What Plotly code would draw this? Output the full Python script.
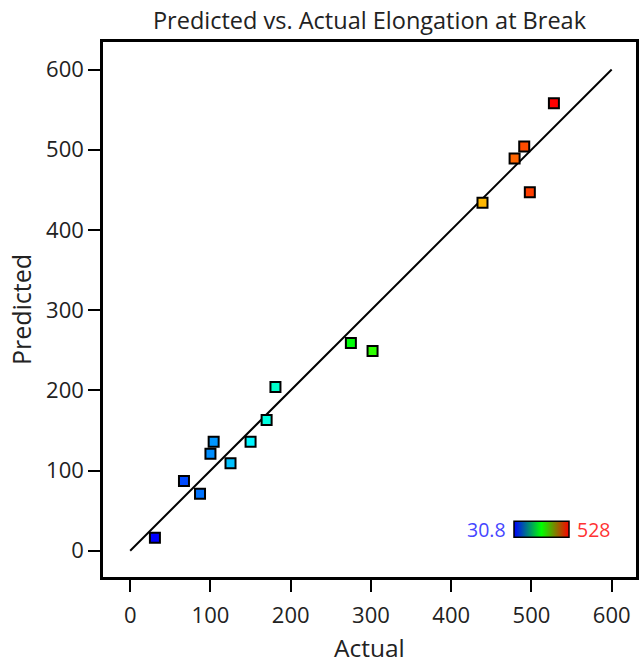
import plotly.graph_objects as go

# Data
actual = [30.8, 67, 87, 100, 104, 125, 150, 170, 181, 275, 302, 439, 479, 491, 498, 528]
predicted = [16, 87, 71, 121, 136, 109, 136, 163, 204, 259, 249, 434, 489, 504, 447, 558]
line_x = [0, 600]
line_y = [0, 600]
tick_vals = [0, 100, 200, 300, 400, 500, 600]
color_min = 30.8
color_max = 528

FONT = "Open Sans"
TXT = "#222222"

marker_scale = [[0.0, "rgb(0,0,255)"], [0.25, "rgb(0,255,255)"], [0.5, "rgb(0,255,0)"],
                [0.75, "rgb(255,255,0)"], [1.0, "rgb(255,0,0)"]]
bar_scale = [[0.0, "rgb(0,0,255)"], [0.5, "rgb(0,255,0)"], [1.0, "rgb(255,0,0)"]]

fig = go.Figure()

fig.add_trace(go.Scatter(x=line_x, y=line_y, mode="lines",
                         line=dict(color="black", width=2), hoverinfo="skip", showlegend=False))

fig.add_trace(go.Scatter(
    x=actual, y=predicted, mode="markers", showlegend=False,
    marker=dict(symbol="square", size=10, color=actual, colorscale=marker_scale,
                cmin=color_min, cmax=color_max, line=dict(color="black", width=2))))

# hidden trace providing the small legend colour bar
fig.add_trace(go.Scatter(
    x=actual, y=predicted, mode="markers", showlegend=False, hoverinfo="skip",
    marker=dict(size=9, color=actual, colorscale=bar_scale, cmin=color_min, cmax=color_max,
                opacity=0, showscale=True,
                colorbar=dict(orientation="h", x=0.823, xanchor="center", y=0.088, yanchor="middle",
                              lenmode="pixels", len=55, thickness=16, xpad=0, ypad=0,
                              outlinewidth=1.5, outlinecolor="black",
                              showticklabels=False, ticks=""))))

fig.add_annotation(text="30.8", x=0.72, y=0.088, xref="paper", yref="paper",
                   xanchor="center", yanchor="middle", showarrow=False,
                   font=dict(family=FONT, size=19.5, color="rgb(70,70,255)"))
fig.add_annotation(text="528", x=0.921, y=0.088, xref="paper", yref="paper",
                   xanchor="center", yanchor="middle", showarrow=False,
                   font=dict(family=FONT, size=19.5, color="rgb(255,50,50)"))

# x-axis title placed as annotation below the tick labels
fig.add_annotation(text="Actual", x=0.5, y=-(647 - 577) / 535, xref="paper", yref="paper",
                   xanchor="center", yanchor="middle", showarrow=False,
                   font=dict(family=FONT, size=24.5, color=TXT))

axis_common = dict(tickvals=tick_vals, showgrid=False, zeroline=False, automargin=False,
                   showline=True, linecolor="black", linewidth=2.5, mirror=True,
                   ticks="outside", ticklen=12, tickwidth=2, tickcolor="black",
                   tickfont=dict(family=FONT, size=22, color=TXT))

fig.update_layout(
    width=639, height=665,
    margin=dict(l=103, r=3, t=42, b=88),
    paper_bgcolor="white", plot_bgcolor="white",
    title=dict(text="Predicted vs. Actual Elongation at Break", x=0.5, xref="paper",
               y=1 - 21 / 665, yanchor="middle",
               font=dict(family=FONT, size=23.5, color=TXT)),
    xaxis=dict(**axis_common, range=[-33.9, 630.3], ticklabelstandoff=5),
    yaxis=dict(**axis_common, range=[-32.8, 634.4],
               title=dict(text="Predicted", standoff=8,
                          font=dict(family=FONT, size=25, color=TXT))),
)

fig.write_html("out.html")
